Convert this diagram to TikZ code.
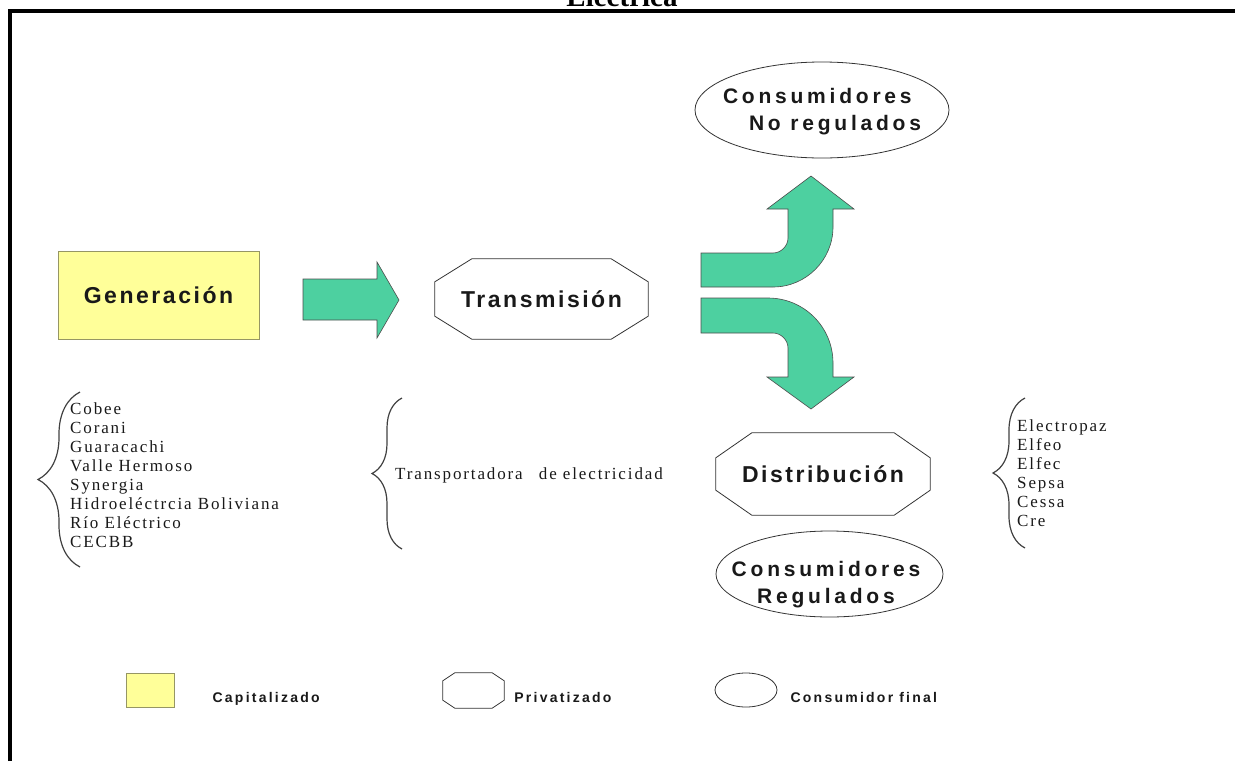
\documentclass[tikz,border=0pt]{standalone}
\usepackage{fontspec}
\setmainfont{Liberation Serif}
\newfontfamily\blockfont{Liberation Sans}[LetterSpace=11]
\newfontfamily\consfont{Liberation Sans}[LetterSpace=18]
\newfontfamily\keyfont{Liberation Sans}[LetterSpace=16]
\newfontfamily\listfont{Liberation Serif}[LetterSpace=11]
\usetikzlibrary{shapes.geometric,decorations.pathreplacing,positioning}

\definecolor{genyellow}{RGB}{255,255,153}
\definecolor{genborder}{RGB}{150,150,100}
\definecolor{flowgreen}{RGB}{77,208,160}

\tikzset{
    block/.style={font=\blockfont\bfseries\fontsize{23}{27}\selectfont, text=black!90, align=center},
    constext/.style={font=\consfont\bfseries\fontsize{21}{27}\selectfont, text=black!90, align=center},
    genbox/.style={block, draw=genborder, fill=genyellow, thick},
    consumer/.style={ellipse, draw=black!80, thick, inner sep=0pt},
    octaline/.style={draw=black!80, thick},
    flowarrow/.style={fill=flowgreen, draw=black!70, line width=0.6pt},
    listbrace/.style={decorate, decoration={brace, amplitude=#1}, draw=black!75, line width=1.2pt},
    listtext/.style={font=\listfont\fontsize{17}{19}\selectfont, text=black!90, align=left, inner sep=0pt},
    keytext/.style={font=\keyfont\bfseries\fontsize{14}{16}\selectfont, text=black!90, inner sep=0pt, anchor=base west}
}

% octagon drawn round a node: #1 = node, #2 = chamfer x, #3 = chamfer y
\newcommand{\octaframe}[3]{%
  \draw[octaline] ([xshift=#2]#1.north west) -- ([xshift=-#2]#1.north east)
    -- ([yshift=-#3]#1.north east) -- ([yshift=#3]#1.south east)
    -- ([xshift=-#2]#1.south east) -- ([xshift=#2]#1.south west)
    -- ([yshift=#3]#1.south west) -- ([yshift=-#3]#1.north west) -- cycle;}

\begin{document}
\begin{tikzpicture}[x=1pt, y=-1pt]
\useasboundingbox (0,0) rectangle (1235,761);

% ==== frame and title ====
\draw[line width=3.5pt] (10,761) -- (10,11) -- (1235,11);
\node[font=\bfseries\fontsize{29}{32}\selectfont, anchor=base] (title) at (622,6) {Eléctrica};

% ==== Generacion ====
\node[genbox, minimum width=201pt, minimum height=88pt, text depth=-2pt] (gen) at (158.5,295) {Generación};

% flecha recta
\draw[flowarrow] (303,279) -- (377,279) -- (377,262) -- (399,300) -- (377,338)
    -- (377,320) -- (303,320) -- cycle;

% ==== Transmision ====
\node[block, minimum width=213pt, minimum height=80pt, inner sep=0pt] (trans) at (541.5,299) {Transmisión};
\octaframe{trans}{37pt}{23pt}

% ==== flechas curvas ====
% hacia arriba
\draw[flowarrow] (701,253) -- (773,253) .. controls (781,253) and (788,246) .. (788,238)
    -- (788,209) -- (767,209) -- (811,176) -- (854,209) -- (833,209) -- (833,227)
    .. controls (833,260) and (806,287) .. (773,287) -- (701,287) -- cycle;
% hacia abajo
\draw[flowarrow] (701,298) -- (768,298) .. controls (804,298) and (833,327) .. (833,363)
    -- (833,377) -- (854,377) -- (811,409) -- (767,377) -- (788,377) -- (788,348)
    .. controls (788,340) and (781,333) .. (773,333) -- (701,333) -- cycle;

% ==== Consumidores ====
\node[consumer, minimum width=254pt, minimum height=96pt] (nonreg) at (822,110) {};
\node[constext, align=left] (nonregtext) at ([yshift=-2pt]nonreg.center) {Consumidores\\\hspace*{26pt}No regulados};

\node[block, minimum width=214pt, minimum height=82pt, inner sep=0pt] (dist) at (823,474) {Distribución};
\octaframe{dist}{36pt}{25pt}

\node[consumer, minimum width=227pt, minimum height=86pt] (reg) at (829.5,574) {};
\node[constext] (regtext) at (826,585) {Consumidores\\Regulados};

% ==== listas ====
\draw[listbrace=42pt] (80,567) -- (80,392);
\node[listtext, anchor=north west] (genlist) at (70,402)
    {Cobee\\Corani\\Guaracachi\\Valle Hermoso\\Synergia\\Hidroeléctrcia Boliviana\\Río Eléctrico\\CECBB};

\draw[listbrace=30pt] (402,549) -- (402,398);
\node[listtext, anchor=base west] (translist) at (395,479) {Transportadora\hspace{10pt} de electricidad};

\draw[listbrace=32pt] (1025,548) -- (1025,398);
\node[listtext, anchor=north west] (distlist) at (1017,419)
    {Electropaz\\Elfeo\\Elfec\\Sepsa\\Cessa\\Cre};

% ==== leyenda ====
\node[draw=genborder, fill=genyellow, thick, minimum width=48pt, minimum height=34pt] (keycap) at (150,690) {};
\node[keytext] (keycaptext) at ([xshift=38pt, yshift=-12pt]keycap.east) {Capitalizado};

\node[minimum width=61pt, minimum height=35pt, inner sep=0pt] (keypriv) at (473.5,690.5) {};
\octaframe{keypriv}{12pt}{8pt}
\node[keytext] (keyprivtext) at ([xshift=10pt, yshift=-12pt]keypriv.east) {Privatizado};

\node[consumer, minimum width=62pt, minimum height=34pt] (keycons) at (746,690) {};
\node[keytext] (keyconstext) at ([xshift=13pt, yshift=-12pt]keycons.east) {Consumidor final};

\end{tikzpicture}
\end{document}
